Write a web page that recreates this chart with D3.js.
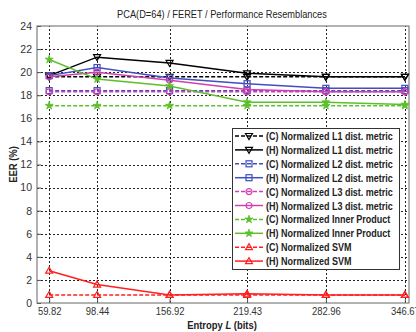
<!DOCTYPE html>
<html>
<head>
<meta charset="utf-8">
<script src="https://cdn.jsdelivr.net/npm/d3@7"></script>
<style>
  body { margin: 0; background: #fff; }
  text { font-family: "Liberation Sans", Arial, sans-serif; }
</style>
</head>
<body>
<div id="wrapper"></div>
<script>
// data
const entropy = [59.82, 98.44, 156.92, 219.43, 282.96, 346.67];
const cL1 = [19.6, 19.6, 19.6, 19.6, 19.6, 19.6];
const hL1 = [19.7, 21.3, 20.8, 19.9, 19.6, 19.6];
const cL2 = [18.4, 18.4, 18.4, 18.4, 18.4, 18.4];
const hL2 = [19.7, 20.4, 19.5, 19.0, 18.6, 18.6];
const cL3 = [18.3, 18.3, 18.3, 18.3, 18.3, 18.3];
const hL3 = [19.6, 20.0, 19.3, 18.5, 18.3, 18.3];
const cIP = [17.1, 17.1, 17.1, 17.1, 17.1, 17.1];
const hIP = [21.1, 19.4, 18.8, 17.4, 17.4, 17.2];
const cSVM = [0.7, 0.7, 0.7, 0.7, 0.7, 0.7];
const hSVM = [2.8, 1.6, 0.7, 0.8, 0.7, 0.7];
const yTicks = [0, 2, 4, 6, 8, 10, 12, 14, 16, 18, 20, 22, 24];

const series = [
    {name: "(C) Normalized L1 dist. metric", values: cL1, color: "#000000", dash: true, marker: "tridown"},
    {name: "(H) Normalized L1 dist. metric", values: hL1, color: "#000000", dash: false, marker: "tridown"},
    {name: "(C) Normalized L2 dist. metric", values: cL2, color: "#3f4fc0", dash: true, marker: "square"},
    {name: "(H) Normalized L2 dist. metric", values: hL2, color: "#3f4fc0", dash: false, marker: "square"},
    {name: "(C) Normalized L3 dist. metric", values: cL3, color: "#d040b0", dash: true, marker: "circle"},
    {name: "(H) Normalized L3 dist. metric", values: hL3, color: "#d040b0", dash: false, marker: "circle"},
    {name: "(C) Normalized Inner Product", values: cIP, color: "#5cc02c", dash: true, marker: "star"},
    {name: "(H) Normalized Inner Product", values: hIP, color: "#5cc02c", dash: false, marker: "star"},
    {name: "(C) Normalized SVM", values: cSVM, color: "#ff2020", dash: true, marker: "triup"},
    {name: "(H) Normalized SVM", values: hSVM, color: "#ff2020", dash: false, marker: "triup"}
];

const width = 416, height = 332;
const margin = {top: 26, left: 37, bottom: 29, right: 7};

const svg = d3.select("#wrapper").append("svg")
    .attr("width", width)
    .attr("height", height);

const x = d3.scaleLinear().domain([50, 350]).range([margin.left, width - margin.right]);
const y = d3.scaleLinear().domain([0, 24]).range([height - margin.bottom, margin.top]);

// squeeze a text horizontally around its anchor (the reference font is narrow)
function squeeze(sel, k, ax) {
    sel.attr("transform", `translate(${ax},0) scale(${k},1) translate(${-ax},0)`);
}

// title
const title = svg.append("text")
    .attr("x", 222).attr("y", 18)
    .attr("text-anchor", "middle")
    .attr("font-size", 11)
    .attr("fill", "#222")
    .text("PCA(D=64) / FERET / Performance Resemblances");
squeeze(title, 210 / title.node().getComputedTextLength(), 222);

// grid
const grid = svg.append("g").attr("stroke", "#222").attr("stroke-width", 1).attr("stroke-dasharray", "2,2");
grid.selectAll(".gy").data(yTicks.slice(1, -1)).join("line")
    .attr("x1", x(50)).attr("x2", x(350))
    .attr("y1", d => Math.round(y(d)) + 0.5).attr("y2", d => Math.round(y(d)) + 0.5);
grid.selectAll(".gx").data(entropy).join("line")
    .attr("y1", y(0)).attr("y2", y(24))
    .attr("x1", d => Math.round(x(d)) + 0.5).attr("x2", d => Math.round(x(d)) + 0.5);

// axes
const xAxis = d3.axisBottom(x).tickValues(entropy).tickSize(-4).tickPadding(5).tickFormat(d3.format(".2f"));
const yAxis = d3.axisLeft(y).tickValues(yTicks).tickSize(-4).tickPadding(5).tickFormat(d3.format("d"));
const gx = svg.append("g").attr("transform", `translate(0,${y(0)})`).call(xAxis);
const gy = svg.append("g").attr("transform", `translate(${x(50)},0)`).call(yAxis);
[gx, gy].forEach(g => {
    g.select(".domain").remove();
    g.selectAll(".tick line").attr("stroke", "#555");
    g.selectAll("text").attr("font-size", 10.5).attr("fill", "#333")
        .attr("font-family", "'Liberation Sans', sans-serif");
});
gx.selectAll(".tick text").attr("transform", "scale(0.9,1)");

// frame
svg.append("rect")
    .attr("x", x(50)).attr("y", y(24))
    .attr("width", x(350) - x(50)).attr("height", y(0) - y(24))
    .attr("fill", "none").attr("stroke", "#666").attr("stroke-width", 1);

// axis labels
const xl = svg.append("text")
    .attr("x", 222).attr("y", 329)
    .attr("text-anchor", "middle")
    .attr("font-size", 10.5).attr("font-weight", "bold").attr("fill", "#222");
xl.append("tspan").text("Entropy ");
xl.append("tspan").attr("font-style", "italic").text("L");
xl.append("tspan").text(" (bits)");
squeeze(xl, 0.9, 222);

svg.append("text")
    .attr("transform", `translate(17,${y(12)}) rotate(-90) scale(0.9,1)`)
    .attr("text-anchor", "middle")
    .attr("font-size", 10.5).attr("font-weight", "bold").attr("fill", "#222")
    .text("EER (%)");

// markers
function drawMarker(g, type, color) {
    if (type === "tridown") {
        g.append("path").attr("d", "M-3.5,-2.5L3.5,-2.5L0,3.5Z");
    } else if (type === "triup") {
        g.append("path").attr("d", "M-3.5,2.5L3.5,2.5L0,-3.5Z");
    } else if (type === "square") {
        g.append("rect").attr("x", -3).attr("y", -3).attr("width", 6).attr("height", 6);
    } else if (type === "circle") {
        g.append("circle").attr("r", 3);
    } else if (type === "star") {
        g.append("path").attr("d", d3.symbol(d3.symbolStar, 20)());
    }
    g.selectAll("*")
        .attr("fill", type === "star" ? color : "none")
        .attr("stroke", color)
        .attr("stroke-width", type === "star" ? 0.8 : 1.2);
}

const line = d3.line()
    .x((d, i) => x(entropy[i]))
    .y(d => y(d));

const plot = svg.append("g");
series.forEach(s => {
    plot.append("path")
        .attr("d", line(s.values))
        .attr("fill", "none")
        .attr("stroke", s.color)
        .attr("stroke-width", 1.5)
        .attr("stroke-dasharray", s.dash ? "4,2" : null);
    s.values.forEach((v, i) => {
        const g = plot.append("g").attr("transform", `translate(${x(entropy[i])},${y(v)})`);
        drawMarker(g, s.marker, s.color);
    });
});

// legend
const legend = svg.append("g").attr("transform", "translate(232,128)");
legend.append("rect")
    .attr("x", 0.5).attr("y", 0.5)
    .attr("width", 167).attr("height", 141)
    .attr("fill", "#fff").attr("stroke", "#333").attr("stroke-width", 1);
let k = 1;
series.forEach((s, i) => {
    const row = legend.append("g").attr("transform", `translate(0,${8 + i * 13.9})`);
    row.append("line")
        .attr("x1", 3).attr("x2", 31)
        .attr("stroke", s.color).attr("stroke-width", 1.5)
        .attr("stroke-dasharray", s.dash ? "4,2" : null);
    drawMarker(row.append("g").attr("transform", "translate(17,0)"), s.marker, s.color);
    const t = row.append("text")
        .attr("x", 34).attr("y", 4)
        .attr("font-size", 10.5).attr("font-weight", "bold").attr("fill", "#222")
        .text(s.name);
    if (i === 0) k = 127 / t.node().getComputedTextLength();
    squeeze(t, k, 34);
});
</script>
</body>
</html>
